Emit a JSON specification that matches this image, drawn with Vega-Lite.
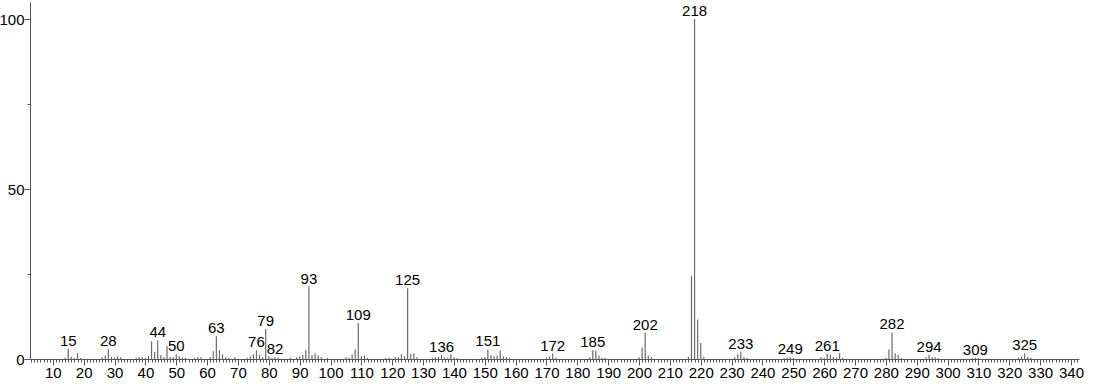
{
  "$schema": "https://vega.github.io/schema/vega-lite/v6.json",
  "width": 1049,
  "height": 357,
  "autosize": {"type": "none"},
  "padding": {"left": 30, "top": 2, "right": 15, "bottom": 25},
  "background": "white",
  "config": {
    "view": {"stroke": null},
    "font": "Liberation Sans",
    "axis": {"grid": false, "domainColor": "#555555", "tickColor": "#555555", "labelColor": "#000000", "labelFont": "Liberation Sans", "labelFontSize": 15, "title": null}
  },
  "data": {"values": [
    {"mz":14,"i":0.4},{"mz":15,"i":2.9,"lab":"15"},{"mz":16,"i":0.6},{"mz":17,"i":0.3},{"mz":18,"i":1.7},{"mz":19,"i":0.3},
    {"mz":26,"i":0.5},{"mz":27,"i":1.0},{"mz":28,"i":2.9,"lab":"28"},{"mz":29,"i":0.6},{"mz":30,"i":0.4},{"mz":31,"i":0.8},{"mz":32,"i":0.5},
    {"mz":37,"i":0.3},{"mz":38,"i":0.5},{"mz":39,"i":0.6},{"mz":40,"i":0.4},{"mz":41,"i":0.9},{"mz":42,"i":5.2},{"mz":43,"i":2.1},{"mz":44,"i":5.5,"lab":"44"},{"mz":45,"i":1.2},{"mz":46,"i":0.5},{"mz":47,"i":3.8},{"mz":48,"i":0.6},{"mz":49,"i":0.5},{"mz":50,"i":1.4,"lab":"50"},{"mz":51,"i":0.8},{"mz":52,"i":0.4},{"mz":53,"i":0.3},
    {"mz":56,"i":0.3},{"mz":57,"i":0.6},{"mz":58,"i":0.5},{"mz":61,"i":0.6},{"mz":62,"i":2.3},{"mz":63,"i":6.7,"lab":"63"},{"mz":64,"i":2.6},{"mz":65,"i":1.4},{"mz":66,"i":0.5},{"mz":67,"i":0.3},{"mz":69,"i":0.5},
    {"mz":73,"i":0.4},{"mz":74,"i":0.8},{"mz":75,"i":1.4},{"mz":76,"i":2.6,"lab":"76"},{"mz":77,"i":1.2},{"mz":78,"i":0.6},{"mz":79,"i":8.8,"lab":"79"},{"mz":80,"i":0.8},{"mz":81,"i":0.4},{"mz":82,"i":0.5,"lab":"82"},{"mz":83,"i":0.3},
    {"mz":87,"i":0.4},{"mz":89,"i":0.5},{"mz":90,"i":0.7},{"mz":91,"i":1.2},{"mz":92,"i":2.6},{"mz":93,"i":21.3,"lab":"93"},{"mz":94,"i":1.2},{"mz":95,"i":1.7},{"mz":96,"i":1.0},{"mz":97,"i":0.5},{"mz":99,"i":0.3},
    {"mz":105,"i":0.5},{"mz":106,"i":0.4},{"mz":107,"i":1.4},{"mz":108,"i":2.8},{"mz":109,"i":10.5,"lab":"109"},{"mz":110,"i":0.8},{"mz":111,"i":1.0},{"mz":112,"i":0.3},
    {"mz":118,"i":0.3},{"mz":119,"i":0.4},{"mz":121,"i":0.5},{"mz":122,"i":0.6},{"mz":123,"i":1.4},{"mz":124,"i":0.8},{"mz":125,"i":20.8,"lab":"125"},{"mz":126,"i":1.4},{"mz":127,"i":1.7},{"mz":128,"i":0.5},
    {"mz":133,"i":0.3},{"mz":134,"i":0.5},{"mz":135,"i":0.6},{"mz":136,"i":1.2,"lab":"136"},{"mz":137,"i":0.5},{"mz":138,"i":0.4},{"mz":139,"i":1.4},{"mz":140,"i":0.5},{"mz":141,"i":0.3},
    {"mz":149,"i":0.4},{"mz":150,"i":0.5},{"mz":151,"i":2.8,"lab":"151"},{"mz":152,"i":1.2},{"mz":153,"i":0.8},{"mz":154,"i":1.0},{"mz":155,"i":2.5},{"mz":156,"i":0.8},{"mz":157,"i":0.6},{"mz":158,"i":0.3},
    {"mz":170,"i":0.5},{"mz":171,"i":0.8},{"mz":172,"i":1.6,"lab":"172"},{"mz":173,"i":0.4},
    {"mz":184,"i":0.5},{"mz":185,"i":2.6,"lab":"185"},{"mz":186,"i":2.4},{"mz":187,"i":1.0},{"mz":188,"i":0.4},{"mz":189,"i":0.3},
    {"mz":200,"i":0.5},{"mz":201,"i":3.4},{"mz":202,"i":7.7,"lab":"202"},{"mz":203,"i":1.0},{"mz":204,"i":0.5},
    {"mz":216,"i":0.6},{"mz":217,"i":24.5},{"mz":218,"i":100,"lab":"218"},{"mz":219,"i":11.6},{"mz":220,"i":4.7},{"mz":221,"i":0.6},
    {"mz":231,"i":0.5},{"mz":232,"i":1.4},{"mz":233,"i":2.1,"lab":"233"},{"mz":234,"i":0.6},{"mz":235,"i":0.3},
    {"mz":247,"i":0.3},{"mz":248,"i":0.3},{"mz":249,"i":0.5,"lab":"249"},{"mz":250,"i":0.3},
    {"mz":259,"i":0.5},{"mz":260,"i":0.4},{"mz":261,"i":1.6,"lab":"261"},{"mz":262,"i":1.3},{"mz":263,"i":0.6},{"mz":264,"i":0.4},{"mz":265,"i":1.7},{"mz":266,"i":0.4},
    {"mz":280,"i":0.4},{"mz":281,"i":2.8},{"mz":282,"i":7.8,"lab":"282"},{"mz":283,"i":1.7},{"mz":284,"i":1.2},{"mz":285,"i":0.4},
    {"mz":293,"i":0.5},{"mz":294,"i":1.2,"lab":"294"},{"mz":295,"i":0.5},{"mz":296,"i":0.5},{"mz":297,"i":0.3},
    {"mz":308,"i":0.3},{"mz":309,"i":0.4,"lab":"309"},{"mz":310,"i":0.3},
    {"mz":323,"i":0.5},{"mz":324,"i":0.7},{"mz":325,"i":1.7,"lab":"325"},{"mz":326,"i":0.6},{"mz":327,"i":0.3}
  ]},
  "encoding": {
    "x": {"field": "mz", "type": "quantitative",
      "scale": {"domain": [2.6, 342.6], "nice": false, "zero": false},
      "axis": {"tickCount": 340, "labelExpr": "datum.value % 10 === 0 ? datum.label : ''", "labelOverlap": false, "labelFlush": false, "labelBound": false,
        "tickSize": {"condition": {"test": "datum.value % 10 === 0", "value": 6}, "value": 3},
        "labelPadding": 0}},
    "y": {"field": "i", "type": "quantitative",
      "scale": {"domain": [0, 105], "nice": false},
      "axis": {"values": [0, 25, 50, 75, 100], "labelExpr": "datum.value % 50 === 0 ? datum.label : ''", "labelOverlap": false,
        "tickSize": {"condition": {"test": "datum.value % 50 === 0", "value": 6}, "value": 3},
        "labelPadding": 0}}
  },
  "layer": [
    {"mark": {"type": "rule", "color": "#6a6a6a", "strokeWidth": 1.2},
     "encoding": {"y2": {"datum": 0}}},
    {"transform": [{"filter": "datum.lab != null"}],
     "mark": {"type": "text", "baseline": "alphabetic", "align": "center", "dy": -3, "fontSize": 15, "color": "#000000", "font": "Liberation Sans"},
     "encoding": {"text": {"field": "lab", "type": "nominal"}}}
  ]
}
